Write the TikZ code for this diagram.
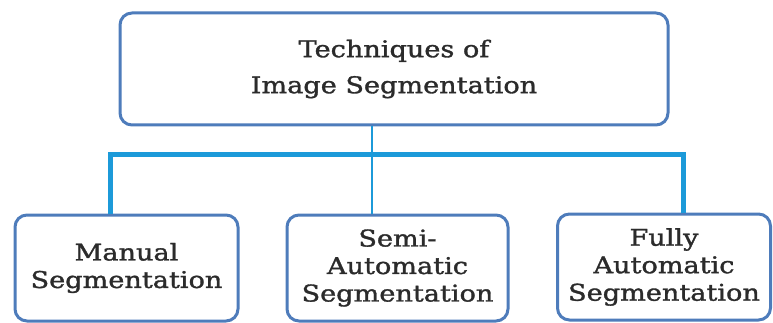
\documentclass[tikz,border=0pt]{standalone}
\usepackage{fontspec}
\setmainfont{DejaVu Serif}[FakeStretch=1.18, FakeBold=1.4]
\definecolor{boxedge}{HTML}{4E7CBB}
\definecolor{wire}{HTML}{1C9AD9}
\definecolor{ink}{HTML}{2B2B2B}
\begin{document}
\begin{tikzpicture}[x=1pt,y=-1pt,
  box/.style={draw=boxedge, line width=3pt, rounded corners=12pt, fill=white,
    align=center, text=ink, inner sep=0pt},
  topbox/.style={box, minimum width=548pt, minimum height=112pt,
    font=\fontsize{23}{36}\selectfont},
  leafbox/.style={box, minimum height=106pt,
    font=\fontsize{23}{27.5}\selectfont},
  bus/.style={draw=wire, line width=5pt, line join=miter},
  stem/.style={draw=wire, line width=1.5pt}]
\useasboundingbox (0,0) rectangle (773,323);

% boxes
\node[topbox] (top) at (394,69) {Techniques of\\Image Segmentation};
\node[leafbox, minimum width=223pt] (manual) at (126.5,268) {Manual\\Segmentation};
\node[leafbox, minimum width=221pt] (semi) at (397.5,268) {Semi-\\Automatic\\Segmentation};
\node[leafbox, minimum width=213pt] (fully) at (664,267) {Fully\\Automatic\\Segmentation};

% branch points of the connectors
\coordinate (stemx) at (372,155);
\coordinate (busl) at (110,155);
\coordinate (busr) at (683,155);

% connectors
\draw[stem] (stemx |- top.south) -- (stemx |- semi.north);
\draw[bus] (busl |- manual.north) -- (busl) -- (busr) -- (busr |- fully.north);
\end{tikzpicture}
\end{document}
